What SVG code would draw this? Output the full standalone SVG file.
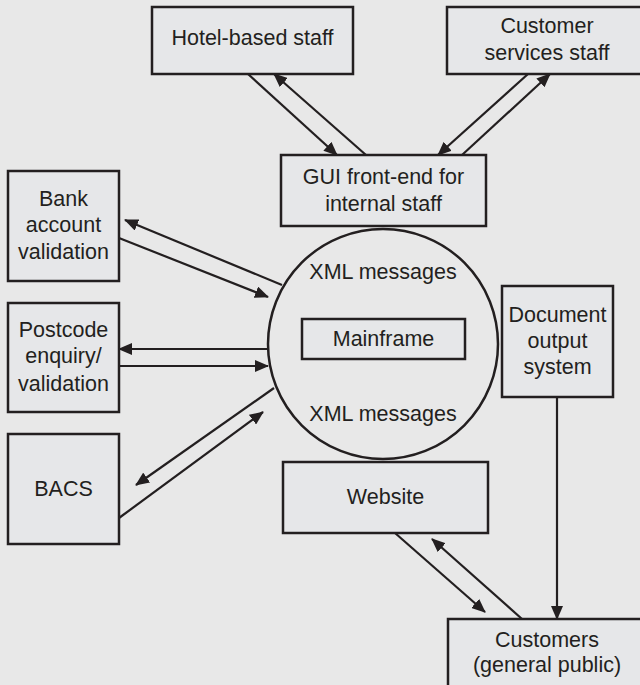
<svg xmlns="http://www.w3.org/2000/svg" width="640" height="685" viewBox="0 0 640 685">
<defs>
<style>
.box{fill:#e6e7e9;stroke:#231f20;stroke-width:2.5}
.t{font-family:"Liberation Sans",Arial,sans-serif;font-size:21.5px;fill:#231f20;text-anchor:middle}
.c{stroke:#231f20;stroke-width:2.2;fill:none}
.a{marker-end:url(#ah)}
</style>
<marker id="ah" markerUnits="userSpaceOnUse" markerWidth="14" markerHeight="12" viewBox="0 0 14 12" refX="13" refY="6" orient="auto">
<path d="M0,0 L14,6 L0,12 z" fill="#231f20"/>
</marker>
</defs>
<rect width="640" height="685" fill="#e8e8e8"/>
<g id="connectors">
<line class="c a" x1="248" y1="74" x2="337" y2="155"/>
<line class="c a" x1="366" y1="155" x2="274" y2="74"/>
<line class="c a" x1="528" y1="74" x2="438" y2="155"/>
<line class="c a" x1="462" y1="155" x2="550" y2="74"/>
<line class="c a" x1="282" y1="285" x2="125" y2="220"/>
<line class="c a" x1="119" y1="238" x2="268" y2="297"/>
<line class="c a" x1="267" y1="349" x2="119" y2="349"/>
<line class="c a" x1="119" y1="366" x2="268" y2="366"/>
<line class="c a" x1="274" y1="388" x2="136" y2="485"/>
<line class="c a" x1="119" y1="518" x2="263" y2="412"/>
<line class="c a" x1="557" y1="397" x2="557" y2="619"/>
<line class="c a" x1="395" y1="533" x2="485" y2="612"/>
<line class="c a" x1="522" y1="619" x2="432" y2="539"/>
</g>
<g id="hotel">
<rect class="box" x="152" y="7" width="201" height="67"/>
<text class="t" x="252.5" y="45">Hotel-based staff</text>
</g>
<g id="customer-services">
<rect class="box" x="447" y="7" width="200" height="67"/>
<text class="t" x="547" y="33">Customer</text>
<text class="t" x="547" y="60">services staff</text>
</g>
<g id="gui">
<rect class="box" x="281" y="155" width="205" height="71"/>
<text class="t" x="383.5" y="184">GUI front-end for</text>
<text class="t" x="383.5" y="211">internal staff</text>
</g>
<g id="bank">
<rect class="box" x="8" y="171" width="111" height="110"/>
<text class="t" x="63.5" y="206">Bank</text>
<text class="t" x="63.5" y="232">account</text>
<text class="t" x="63.5" y="259">validation</text>
</g>
<g id="postcode">
<rect class="box" x="8" y="303" width="111" height="109"/>
<text class="t" x="63.5" y="337">Postcode</text>
<text class="t" x="63.5" y="363">enquiry/</text>
<text class="t" x="63.5" y="391">validation</text>
</g>
<g id="bacs">
<rect class="box" x="8" y="434" width="111" height="110"/>
<text class="t" x="63.5" y="496">BACS</text>
</g>
<g id="mainframe-hub">
<circle cx="383" cy="344" r="115" fill="none" stroke="#231f20" stroke-width="2.5"/>
<text class="t" x="383" y="279">XML messages</text>
<text class="t" x="383" y="421">XML messages</text>
</g>
<g id="mainframe">
<rect class="box" x="302" y="319" width="163" height="40"/>
<text class="t" x="383.5" y="346">Mainframe</text>
</g>
<g id="document-output">
<rect class="box" x="502" y="286" width="111" height="111"/>
<text class="t" x="557.5" y="322">Document</text>
<text class="t" x="557.5" y="348">output</text>
<text class="t" x="557.5" y="374">system</text>
</g>
<g id="website">
<rect class="box" x="283" y="462" width="205" height="71"/>
<text class="t" x="385.5" y="504">Website</text>
</g>
<g id="customers">
<rect class="box" x="448" y="619" width="200" height="80"/>
<text class="t" x="547" y="647">Customers</text>
<text class="t" x="547" y="672">(general public)</text>
</g>
</svg>
